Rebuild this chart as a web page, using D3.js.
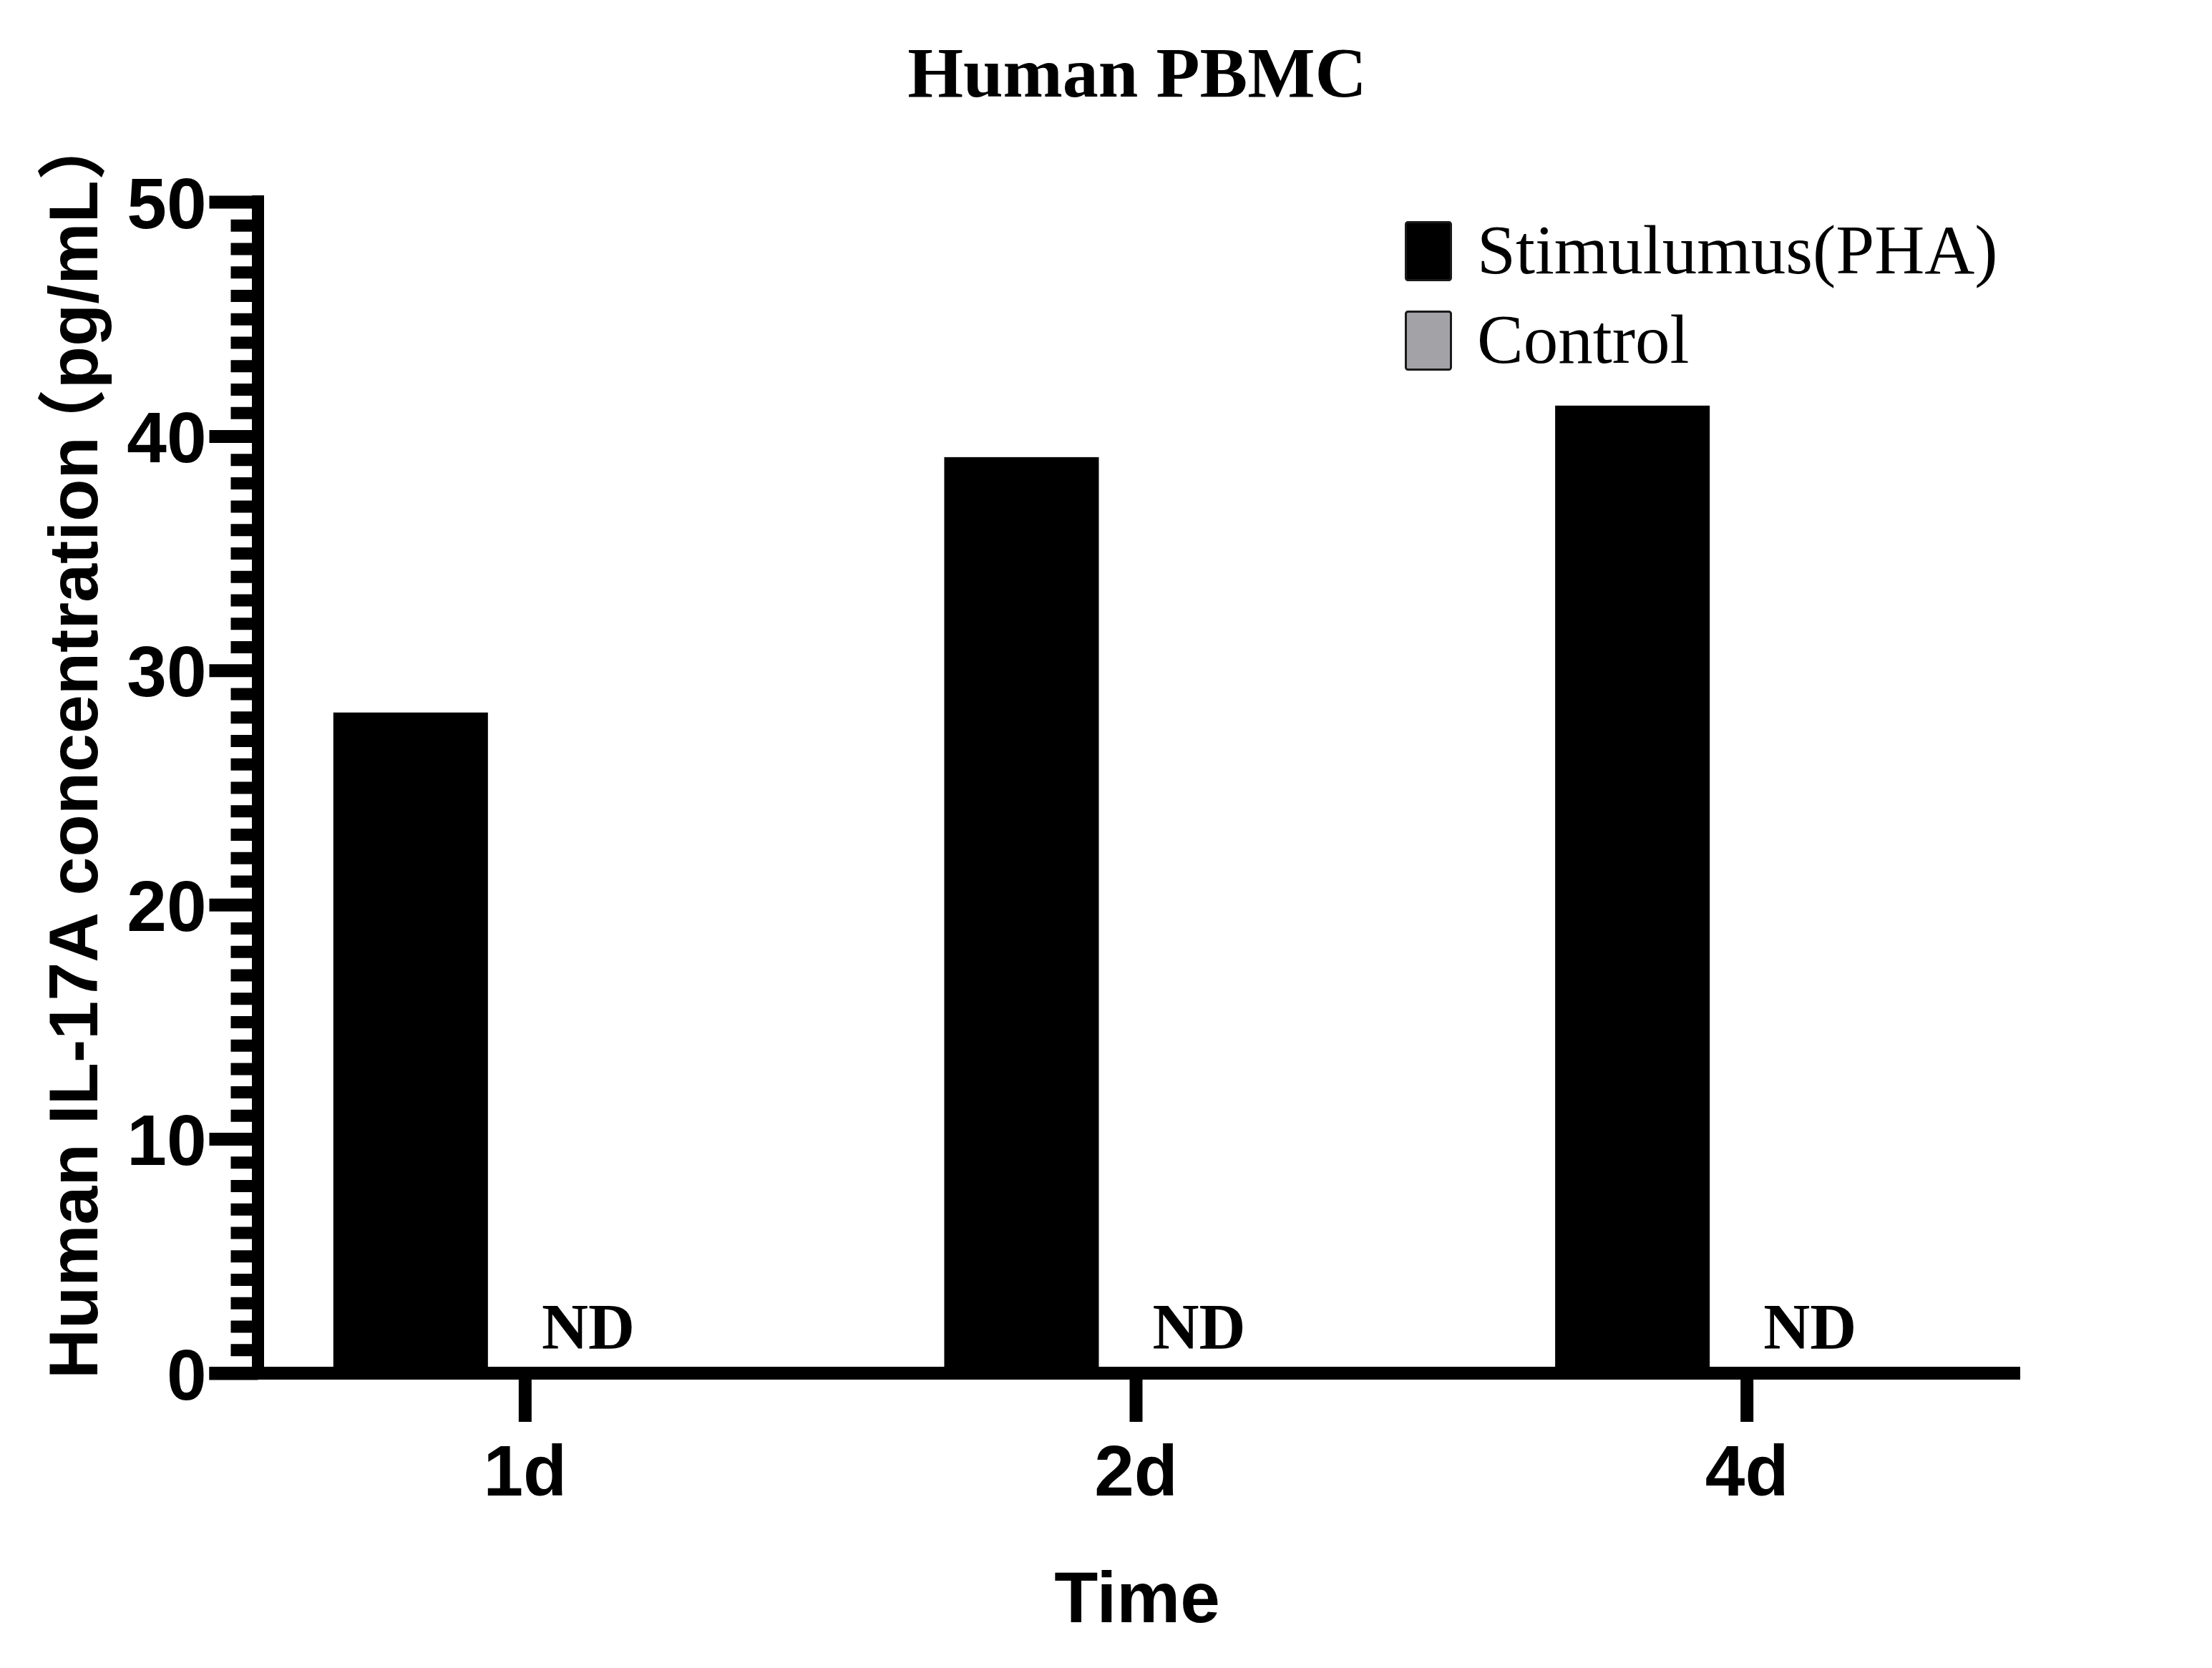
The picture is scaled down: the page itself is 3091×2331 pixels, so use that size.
<!DOCTYPE html>
<html>
<head>
<meta charset="utf-8">
<script src="https://cdn.jsdelivr.net/npm/d3@7/dist/d3.min.js"></script>
<style>
  html, body { margin: 0; padding: 0; background: #fff; }
  svg { display: block; }
</style>
</head>
<body>
<svg id="chart" width="3091" height="2331"></svg>
<script>
// ---- data ----
const categories = ["1d", "2d", "4d"];
const seriesNames = ["Stimulumus(PHA)", "Control"];
const stimValues = [28.2, 39.1, 41.3];
const controlValues = [0, 0, 0];
const controlLabels = ["ND", "ND", "ND"];
const yMajorTicks = [0, 10, 20, 30, 40, 50];
const yMinorTicks = d3.range(0, 51, 1).filter(v => v % 10 !== 0);
const titleText = "Human PBMC";
const yTitleParts = ["Human IL-17A concentration", "（", "pg/mL", "）"];
const xTitle = "Time";

const seriesColors = { "Stimulumus(PHA)": "#000000", "Control": "#a3a3a7" };

const SERIF = "'Liberation Serif', 'Times New Roman', Times, serif";
const SANS = "'Liberation Sans', Arial, Helvetica, 'Noto Sans CJK SC', sans-serif";

const svg = d3.select("#chart");

// ---- scales ----
const y = d3.scaleLinear().domain([0, 50]).range([1919, 282]);
const x0 = d3.scaleBand().domain(categories).range([307, 2868]).padding(0);
const bw = x0.bandwidth();
const x1 = d3.scaleBand().domain(seriesNames)
  .range([bw * 0.186, bw * 0.814]).paddingInner(0.325).paddingOuter(0);

const axisX = 360.5; // center of the y-axis line

// ---- bars ----
const rows = categories.map((c, i) => ({
  cat: c,
  vals: [
    { s: seriesNames[0], v: stimValues[i] },
    { s: seriesNames[1], v: controlValues[i], label: controlLabels[i] }
  ]
}));

const g = svg.append("g");
const groups = g.selectAll("g.cat").data(rows).join("g")
  .attr("class", "cat")
  .attr("transform", d => `translate(${x0(d.cat)},0)`);

groups.selectAll("rect").data(d => d.vals).join("rect")
  .attr("x", d => x1(d.s))
  .attr("width", x1.bandwidth())
  .attr("y", d => y(d.v))
  .attr("height", d => y(0) - y(d.v))
  .attr("fill", d => seriesColors[d.s]);

groups.selectAll("text.nd").data(d => d.vals.filter(v => v.label)).join("text")
  .attr("class", "nd")
  .attr("x", d => x1(d.s) + x1.bandwidth() * 0.167)
  .attr("y", (d, i, n) => y(0) - 34)
  .attr("text-anchor", "middle")
  .attr("font-family", SERIF)
  .attr("font-weight", "bold")
  .attr("font-size", 90)
  .attr("fill", "#000")
  .text(d => d.label);

// ---- y axis ----
const yMinor = svg.append("g").attr("transform", `translate(${axisX},0)`)
  .call(d3.axisLeft(y).tickValues(yMinorTicks).tickSize(38).tickFormat(""));
yMinor.select(".domain").remove();
yMinor.selectAll(".tick line").attr("stroke", "#000").attr("stroke-width", 17);

const yMajor = svg.append("g").attr("transform", `translate(${axisX},0)`)
  .call(d3.axisLeft(y).tickValues(yMajorTicks).tickSize(68).tickPadding(4).tickFormat(d3.format("d")));
yMajor.select(".domain").remove();
yMajor.selectAll(".tick line").attr("stroke", "#000").attr("stroke-width", 18);
yMajor.selectAll(".tick text")
  .attr("font-family", SANS).attr("font-weight", "bold")
  .attr("font-size", 100).attr("fill", "#000").attr("dy", "0.36em");

svg.append("line")
  .attr("x1", axisX).attr("x2", axisX)
  .attr("y1", y(50) - 9).attr("y2", y(0) + 9)
  .attr("stroke", "#000").attr("stroke-width", 17);

// ---- x axis ----
const xAxis = svg.append("g").attr("transform", `translate(0,${y(0)})`)
  .call(d3.axisBottom(x0).tickSize(68).tickPadding(32));
xAxis.select(".domain").remove();
xAxis.selectAll(".tick line").attr("stroke", "#000").attr("stroke-width", 18);
xAxis.selectAll(".tick text")
  .attr("font-family", SANS).attr("font-weight", "bold")
  .attr("font-size", 100).attr("fill", "#000");

svg.append("line")
  .attr("x1", axisX - 68).attr("x2", 2823)
  .attr("y1", y(0)).attr("y2", y(0))
  .attr("stroke", "#000").attr("stroke-width", 18);

// ---- titles ----
svg.append("text")
  .attr("x", 1589).attr("y", 135)
  .attr("text-anchor", "middle")
  .attr("font-family", SERIF).attr("font-weight", "bold")
  .attr("font-size", 100).attr("fill", "#000")
  .text(titleText);

const yt = svg.append("text")
  .attr("transform", "translate(136,1927) rotate(-90)")
  .attr("text-anchor", "start")
  .attr("font-family", SANS).attr("font-weight", "bold")
  .attr("font-size", 97).attr("fill", "#000");
yt.append("tspan").text(yTitleParts[0]);
yt.append("tspan").attr("dx", -30).text(yTitleParts[1]);
yt.append("tspan").attr("dx", 0).text(yTitleParts[2]);
yt.append("tspan").attr("dx", 0).text(yTitleParts[3]);

svg.append("text")
  .attr("x", 1589).attr("y", 2267)
  .attr("text-anchor", "middle")
  .attr("font-family", SANS).attr("font-weight", "bold")
  .attr("font-size", 100).attr("fill", "#000")
  .text(xTitle);

// ---- legend ----
const legend = svg.append("g").attr("transform", "translate(1963,309)");
const li = legend.selectAll("g").data(seriesNames).join("g")
  .attr("transform", (d, i) => `translate(0,${i * 125})`);
li.append("rect")
  .attr("x", 1.5).attr("y", 1.5)
  .attr("width", 63).attr("height", 81)
  .attr("rx", 3)
  .attr("fill", d => seriesColors[d])
  .attr("stroke", "#1a1a1a").attr("stroke-width", 3);
li.append("text")
  .attr("x", 101).attr("y", 73)
  .attr("font-family", SERIF)
  .attr("font-size", 97).attr("fill", "#000")
  .text(d => d);
</script>
</body>
</html>
